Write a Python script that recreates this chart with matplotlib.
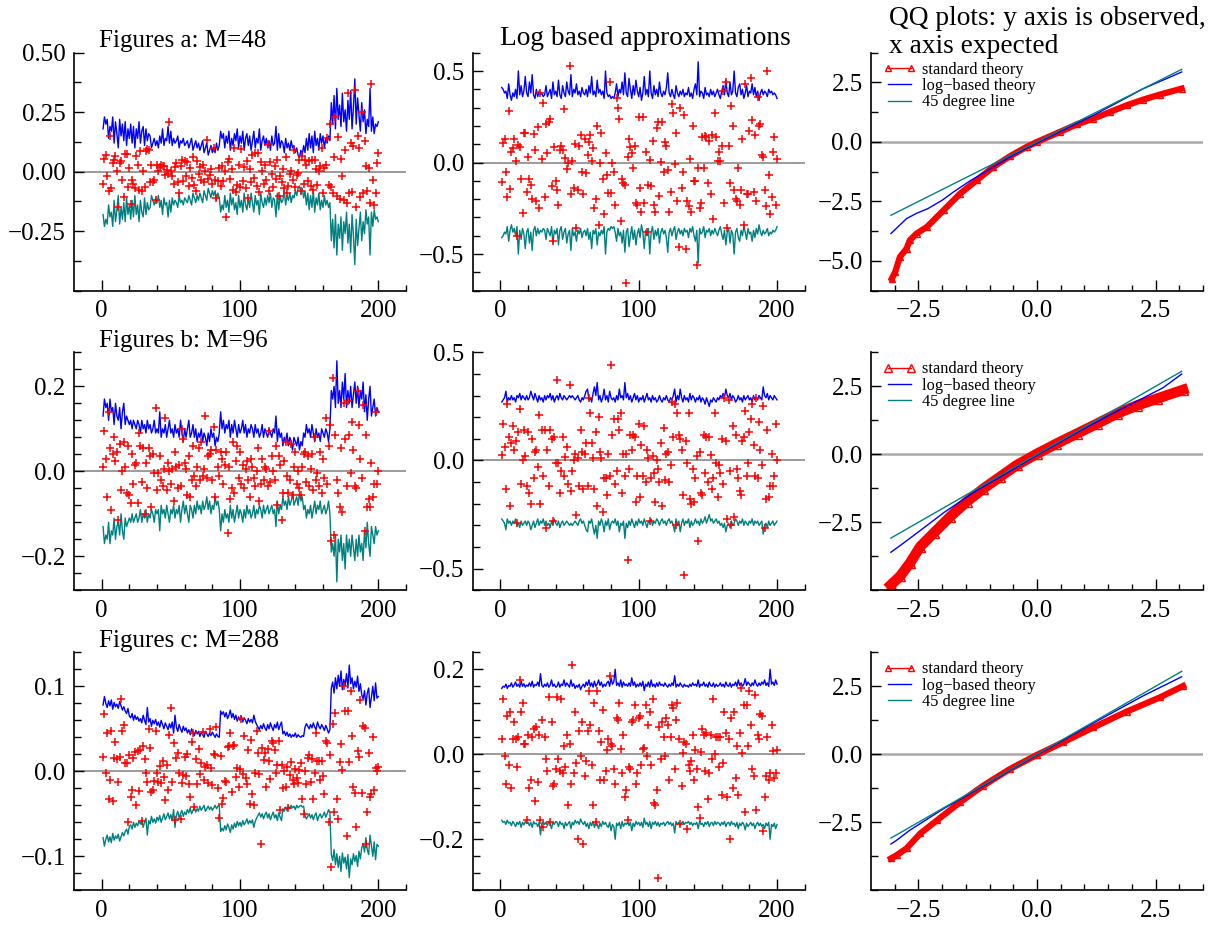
import numpy as np
import matplotlib
matplotlib.use('Agg')
import matplotlib.pyplot as plt
from matplotlib.lines import Line2D
from matplotlib.ticker import FixedLocator

plt.rcParams['font.family'] = ['Liberation Serif', 'DejaVu Serif']

# %%
# Simulation output (200 replications per panel)

# Figures a: M=48
a_std_up = [
    0.18, 0.23, 0.20, 0.22, 0.14, 0.19, 0.17, 0.23, 0.12, 0.21,
    0.16, 0.10, 0.22, 0.15, 0.20, 0.13, 0.21, 0.11, 0.18, 0.14,
    0.20, 0.12, 0.19, 0.10, 0.18, 0.14, 0.21, 0.12, 0.17, 0.19,
    0.11, 0.18, 0.13, 0.16, 0.15, 0.10, 0.12, 0.14, 0.11, 0.13,
    0.10, 0.15, 0.12, 0.18, 0.11, 0.14, 0.13, 0.19, 0.12, 0.17,
    0.11, 0.14, 0.12, 0.13, 0.15, 0.10, 0.13, 0.12, 0.14, 0.11,
    0.12, 0.13, 0.10, 0.12, 0.14, 0.09, 0.11, 0.13, 0.10, 0.12,
    0.09, 0.11, 0.13, 0.08, 0.10, 0.12, 0.07, 0.09, 0.11, 0.08,
    0.10, 0.08, 0.12, 0.09, 0.11, 0.17, 0.14, 0.16, 0.10, 0.15,
    0.12, 0.17, 0.09, 0.14, 0.11, 0.16, 0.13, 0.18, 0.10, 0.15,
    0.12, 0.17, 0.09, 0.14, 0.16, 0.11, 0.15, 0.09, 0.13, 0.17,
    0.10, 0.14, 0.12, 0.18, 0.09, 0.13, 0.15, 0.11, 0.14, 0.10,
    0.13, 0.09, 0.15, 0.11, 0.12, 0.19, 0.09, 0.16, 0.10, 0.13,
    0.12, 0.08, 0.14, 0.10, 0.12, 0.09, 0.13, 0.10, 0.11, 0.08,
    0.10, 0.07, 0.06, 0.09, 0.07, 0.11, 0.08, 0.14, 0.09, 0.16,
    0.10, 0.15, 0.08, 0.17, 0.11, 0.14, 0.09, 0.16, 0.12, 0.15,
    0.10, 0.14, 0.12, 0.15, 0.13, 0.29, 0.20, 0.32, 0.18, 0.35,
    0.22, 0.28, 0.19, 0.33, 0.21, 0.26, 0.17, 0.30, 0.22, 0.34,
    0.18, 0.27, 0.39, 0.20, 0.31, 0.24, 0.17, 0.29, 0.21, 0.26,
    0.16, 0.22, 0.19, 0.35, 0.17, 0.23, 0.16, 0.20, 0.19, 0.21,
]
a_std_err = [
    -0.05, 0.055, 0.07, -0.02, -0.08, 0.15, -0.07, 0.035, 0.05, 0.065,
    0.005, -0.15, 0.035, 0.045, -0.035, -0.105, 0.073, 0.076, -0.065, 0.015,
    -0.135, -0.035, -0.05, -0.07, 0.065, 0.03, -0.075, 0.085, -0.08, 0.005,
    -0.065, 0.085, 0.095, 0.09, -0.045, 0.03, -0.045, -0.035, -0.12, 0.03,
    0.005, 0.02, 0.03, 0.025, 0.022, -0.015, 0.008, -0.008, 0.21, 0.005,
    -0.02, -0.05, 0.02, 0.035, -0.045, -0.09, 0.025, 0.05, -0.04, 0.045,
    -0.02, 0.04, -0.06, 0.015, -0.025, 0.06, -0.055, -0.08, 0.045, -0.01,
    0.02, -0.035, 0.03, -0.045, 0.005, 0.135, -0.03, -0.015, 0.01, -0.05,
    0.10, -0.035, -0.11, -0.04, 0.015, -0.06, 0.025, -0.04, 0.005, -0.19,
    0.04, 0.055, -0.03, 0.012, -0.075, 0.10, -0.085, -0.055, 0.03, -0.065,
    0.095, -0.04, 0.02, -0.07, 0.045, -0.11, 0.01, -0.045, 0.07, -0.025,
    0.08, -0.06, 0.08, -0.085, 0.04, 0.005, -0.05, 0.03, -0.035, 0.115,
    -0.08, 0.04, -0.01, -0.065, 0.025, -0.03, 0.05, -0.1, -0.02, -0.045,
    0.01, -0.07, 0.06, -0.09, -0.06, -0.01, 0.005, -0.035, 0.09, -0.065,
    -0.015, -0.005, 0.05, -0.08, 0.065, -0.05, 0.05, 0.03, -0.04, 0.045,
    -0.06, 0.05, -0.075, 0.05, 0.01, -0.055, 0.005, 0.025, 0.1, -0.09,
    0.015, 0.03, 0.14, -0.055, 0.2, -0.065, -0.09, 0.06, 0.23, -0.1,
    0.145, -0.115, 0.055, -0.02, -0.12, 0.09, -0.13, 0.33, -0.09, 0.12,
    -0.085, 0.11, 0.345, -0.15, 0.15, 0.1, -0.105, 0.25, -0.09, 0.13,
    0.025, -0.08, 0.015, -0.13, 0.37, -0.035, -0.14, -0.09, 0.035, 0.08,
]
a_log_up = [
    0.41, 0.40, 0.38, 0.39, 0.35, 0.43, 0.37, 0.34, 0.38, 0.36,
    0.40, 0.35, 0.50, 0.37, 0.42, 0.36, 0.39, 0.47, 0.38, 0.36,
    0.44, 0.38, 0.48, 0.37, 0.35, 0.40, 0.36, 0.39, 0.37, 0.38,
    0.36, 0.37, 0.42, 0.36, 0.38, 0.40, 0.35, 0.44, 0.37, 0.39,
    0.36, 0.45, 0.37, 0.35, 0.42, 0.38, 0.36, 0.44, 0.39, 0.37,
    0.48, 0.36, 0.40, 0.38, 0.43, 0.37, 0.39, 0.36, 0.41, 0.38,
    0.37, 0.40, 0.36, 0.42, 0.38, 0.47, 0.37, 0.39, 0.36, 0.45,
    0.38, 0.40, 0.37, 0.39, 0.35, 0.50, 0.38, 0.36, 0.37, 0.35,
    0.36, 0.35, 0.38, 0.43, 0.36, 0.40, 0.38, 0.44, 0.37, 0.49,
    0.38, 0.36, 0.46, 0.40, 0.35, 0.42, 0.37, 0.45, 0.39, 0.36,
    0.41, 0.34, 0.38, 0.47, 0.37, 0.40, 0.36, 0.50, 0.38, 0.35,
    0.42, 0.37, 0.40, 0.36, 0.44, 0.38, 0.36, 0.39, 0.37, 0.41,
    0.49, 0.38, 0.36, 0.40, 0.37, 0.35, 0.42, 0.38, 0.36, 0.39,
    0.37, 0.40, 0.36, 0.38, 0.37, 0.41, 0.36, 0.38, 0.35, 0.40,
    0.43, 0.37, 0.55, 0.36, 0.39, 0.38, 0.35, 0.41, 0.37, 0.38,
    0.36, 0.40, 0.37, 0.39, 0.36, 0.38, 0.40, 0.37, 0.35, 0.39,
    0.42, 0.37, 0.45, 0.38, 0.36, 0.44, 0.37, 0.39, 0.50, 0.38,
    0.36, 0.41, 0.43, 0.37, 0.40, 0.35, 0.38, 0.42, 0.36, 0.39,
    0.38, 0.43, 0.37, 0.41, 0.36, 0.39, 0.34, 0.38, 0.40, 0.37,
    0.39, 0.38, 0.36, 0.40, 0.38, 0.39, 0.37, 0.38, 0.37, 0.35,
]
a_log_err = [
    -0.105, 0.105, 0.13, -0.05, -0.19, 0.28, -0.145, 0.06, 0.08, 0.13,
    0.01, -0.40, 0.095, 0.085, -0.09, -0.275, 0.16, 0.16, -0.16, 0.03,
    -0.09, -0.12, -0.2, 0.155, 0.07, -0.21, 0.195, -0.25, 0.38, 0.02,
    0.325, -0.19, 0.21, 0.05, 0.22, 0.24, -0.13, -0.43, 0.085, -0.1,
    -0.15, -0.23, 0.067, 0.09, 0.07, 0.295, 0.025, -0.033, 0.0, 0.53,
    -0.17, 0.01, -0.14, 0.1, -0.36, -0.15, 0.09, 0.15, -0.05, -0.17,
    0.13, -0.055, 0.04, 0.11, 0.15, 0.01, 0.08, -0.25, -0.2, 0.2,
    -0.34, 0.0, 0.16, -0.09, -0.28, 0.05, -0.07, -0.165, 0.44, -0.165,
    0.0, -0.05, -0.23, 0.35, 0.3, 0.24, -0.32, -0.09, -0.11, -0.12,
    -0.66, 0.03, 0.13, 0.085, 0.05, -0.03, 0.09, -0.22, -0.23, 0.25,
    -0.14, -0.27, 0.25, -0.22, 0.06, -0.38, -0.12, 0.015, -0.13, 0.12,
    -0.23, -0.27, 0.19, 0.22, -0.18, 0.005, 0.22, -0.05, 0.11, 0.09,
    -0.04, -0.27, -0.16, 0.32, 0.27, -0.01, 0.16, -0.21, -0.46, 0.3,
    -0.14, -0.05, 0.26, -0.47, -0.21, -0.24, 0.02, -0.27, 0.2, -0.1,
    -0.1, -0.56, -0.03, -0.25, -0.22, 0.14, -0.03, 0.145, 0.14, -0.11,
    0.12, -0.17, 0.15, -0.31, 0.27, 0.14, 0.01, 0.06, 0.01, 0.09,
    0.39, -0.22, 0.44, -0.36, 0.09, -0.11, 0.31, 0.2, -0.15, -0.2,
    -0.21, -0.03, -0.23, -0.15, 0.13, -0.34, 0.43, -0.17, -0.17, 0.17,
    0.46, 0.23, -0.16, 0.15, -0.21, 0.36, 0.2, 0.21, 0.04, 0.03,
    -0.15, -0.24, 0.5, -0.07, -0.28, -0.19, 0.06, 0.14, -0.23, 0.02,
]

# Figures b: M=96
b_std_up = [
    0.13, 0.17, 0.15, 0.16, 0.12, 0.17, 0.14, 0.15, 0.11, 0.16,
    0.13, 0.12, 0.15, 0.10, 0.14, 0.16, 0.11, 0.13, 0.12, 0.11,
    0.12, 0.10, 0.12, 0.11, 0.10, 0.12, 0.11, 0.09, 0.12, 0.10,
    0.11, 0.09, 0.12, 0.10, 0.11, 0.09, 0.10, 0.12, 0.09, 0.10,
    0.09, 0.14, 0.08, 0.10, 0.09, 0.11, 0.08, 0.10, 0.12, 0.09,
    0.10, 0.08, 0.11, 0.09, 0.10, 0.08, 0.12, 0.09, 0.07, 0.10,
    0.08, 0.10, 0.12, 0.08, 0.09, 0.11, 0.08, 0.10, 0.07, 0.09,
    0.08, 0.10, 0.07, 0.09, 0.08, 0.06, 0.09, 0.07, 0.10, 0.08,
    0.09, 0.06, 0.08, 0.07, 0.09, 0.14, 0.10, 0.12, 0.09, 0.11,
    0.10, 0.12, 0.08, 0.11, 0.09, 0.12, 0.10, 0.08, 0.11, 0.09,
    0.10, 0.12, 0.09, 0.11, 0.08, 0.10, 0.09, 0.11, 0.10, 0.08,
    0.11, 0.09, 0.10, 0.08, 0.09, 0.11, 0.08, 0.10, 0.09, 0.08,
    0.10, 0.09, 0.08, 0.10, 0.09, 0.13, 0.07, 0.10, 0.08, 0.09,
    0.06, 0.08, 0.07, 0.09, 0.06, 0.08, 0.07, 0.05, 0.08, 0.07,
    0.06, 0.08, 0.05, 0.07, 0.06, 0.09, 0.08, 0.11, 0.09, 0.10,
    0.08, 0.11, 0.09, 0.07, 0.10, 0.08, 0.09, 0.07, 0.10, 0.09,
    0.08, 0.10, 0.09, 0.07, 0.10, 0.19, 0.17, 0.20, 0.15, 0.26,
    0.16, 0.19, 0.15, 0.21, 0.17, 0.23, 0.15, 0.19, 0.16, 0.20,
    0.15, 0.18, 0.21, 0.16, 0.20, 0.15, 0.19, 0.17, 0.21, 0.14,
    0.18, 0.12, 0.17, 0.20, 0.13, 0.15, 0.17, 0.13, 0.15, 0.14,
]
b_std_err = [
    0.01, 0.095, 0.03, -0.06, 0.14, 0.055, -0.09, 0.04, 0.08, 0.025,
    0.045, -0.115, 0.065, -0.045, 0.0, 0.07, 0.01, -0.05, 0.06, -0.055,
    -0.075, 0.04, -0.03, 0.015, 0.02, -0.075, 0.09, 0.06, -0.025, 0.055,
    -0.1, 0.02, -0.04, 0.055, 0.035, -0.085, 0.04, -0.005, 0.15, -0.045,
    -0.005, 0.035, -0.02, -0.035, 0.005, 0.125, -0.045, 0.02, 0.0, -0.03,
    0.005, -0.07, 0.045, 0.01, -0.04, 0.015, -0.035, 0.1, 0.075, 0.02,
    0.005, -0.055, 0.035, -0.06, -0.02, 0.06, -0.01, -0.035, 0.01, 0.055,
    -0.02, 0.07, -0.01, 0.005, 0.13, -0.015, 0.035, 0.04, 0.05, -0.02,
    0.105, -0.06, 0.05, 0.01, -0.01, 0.045, 0.03, -0.03, 0.015, 0.045,
    -0.145, 0.01, -0.065, -0.04, 0.07, -0.05, 0.025, 0.06, -0.015, 0.045,
    -0.03, 0.015, -0.04, 0.005, 0.025, -0.02, -0.06, 0.03, 0.01, -0.015,
    -0.035, 0.0, 0.055, -0.07, -0.03, 0.03, -0.02, 0.01, 0.005, -0.035,
    0.095, -0.025, 0.035, 0.0, -0.02, 0.06, -0.08, 0.035, 0.015, -0.115,
    -0.05, 0.025, 0.07, -0.01, -0.05, -0.02, 0.065, -0.055, 0.01, 0.045,
    -0.03, 0.0, -0.04, -0.055, 0.01, 0.04, 0.045, -0.025, 0.035, -0.035,
    0.005, 0.04, -0.045, 0.08, -0.02, -0.005, -0.035, 0.045, -0.05, 0.03,
    -0.015, 0.125, -0.03, 0.06, 0.11, -0.165, 0.22, -0.15, 0.085, -0.02,
    -0.05, -0.085, 0.055, -0.095, 0.16, 0.075, -0.035, 0.165, 0.085, -0.005,
    0.115, 0.05, -0.035, -0.04, 0.19, 0.11, 0.03, -0.015, 0.155, -0.14,
    0.085, -0.085, -0.065, -0.085, 0.02, -0.06, -0.03, 0.14, -0.03, 0.0,
]
b_log_up = [
    0.27, 0.28, 0.29, 0.32, 0.27, 0.29, 0.28, 0.30, 0.28, 0.29,
    0.27, 0.30, 0.29, 0.31, 0.28, 0.30, 0.29, 0.28, 0.30, 0.28,
    0.29, 0.32, 0.30, 0.28, 0.31, 0.29, 0.27, 0.30, 0.28, 0.29,
    0.27, 0.30, 0.28, 0.30, 0.29, 0.31, 0.28, 0.30, 0.27, 0.29,
    0.30, 0.28, 0.31, 0.29, 0.28, 0.30, 0.29, 0.28, 0.29, 0.30,
    0.29, 0.30, 0.29, 0.28, 0.29, 0.30, 0.28, 0.27, 0.29, 0.28,
    0.30, 0.32, 0.33, 0.28, 0.29, 0.27, 0.31, 0.34, 0.30, 0.36,
    0.28, 0.30, 0.27, 0.29, 0.33, 0.28, 0.30, 0.27, 0.32, 0.29,
    0.28, 0.29, 0.27, 0.30, 0.28, 0.33, 0.29, 0.30, 0.28, 0.36,
    0.29, 0.31, 0.28, 0.30, 0.27, 0.29, 0.31, 0.28, 0.30, 0.27,
    0.29, 0.28, 0.30, 0.27, 0.29, 0.31, 0.28, 0.29, 0.27, 0.30,
    0.28, 0.29, 0.27, 0.28, 0.30, 0.28, 0.27, 0.29, 0.28, 0.30,
    0.28, 0.27, 0.29, 0.28, 0.30, 0.33, 0.27, 0.30, 0.28, 0.33,
    0.29, 0.27, 0.30, 0.28, 0.29, 0.27, 0.31, 0.28, 0.30, 0.29,
    0.27, 0.29, 0.28, 0.30, 0.27, 0.29, 0.28, 0.26, 0.29, 0.27,
    0.25, 0.28, 0.27, 0.29, 0.28, 0.27, 0.29, 0.28, 0.30, 0.29,
    0.31, 0.29, 0.33, 0.30, 0.29, 0.31, 0.28, 0.30, 0.29, 0.27,
    0.28, 0.30, 0.28, 0.29, 0.27, 0.30, 0.28, 0.29, 0.30, 0.28,
    0.29, 0.27, 0.30, 0.28, 0.29, 0.28, 0.30, 0.29, 0.28, 0.34,
    0.30, 0.29, 0.31, 0.28, 0.30, 0.29, 0.28, 0.30, 0.29, 0.28,
]
b_log_err = [
    0.025, 0.17, 0.06, -0.13, 0.26, 0.11, -0.21, 0.08, 0.16, 0.05,
    0.09, -0.29, 0.13, 0.24, -0.11, 0.0, 0.14, 0.02, -0.12, 0.13,
    -0.15, -0.2, 0.1, -0.08, 0.04, 0.05, -0.03, 0.21, -0.2, 0.14,
    -0.07, 0.14, -0.31, 0.05, -0.12, 0.14, 0.1, -0.28, 0.11, -0.01,
    0.37, -0.01, -0.15, -0.05, 0.11, -0.07, 0.015, 0.06, -0.11, 0.35,
    -0.14, -0.05, 0.0, 0.03, -0.25, 0.01, -0.12, 0.14, 0.04, -0.13,
    0.03, 0.08, -0.12, 0.29, 0.22, 0.08, 0.01, -0.13, 0.13, -0.21,
    0.2, 0.04, 0.01, -0.24, -0.08, -0.08, -0.16, 0.03, -0.07, 0.44,
    0.12, 0.19, -0.11, -0.05, 0.19, 0.14, 0.22, -0.15, 0.03, -0.07,
    0.03, -0.46, -0.04, 0.12, 0.05, 0.12, 0.11, -0.19, -0.07, 0.17,
    -0.17, 0.07, -0.07, 0.16, -0.1, 0.05, 0.01, -0.28, -0.08, 0.02,
    -0.06, -0.19, 0.0, -0.04, -0.1, 0.08, -0.21, 0.15, -0.09, 0.03,
    0.04, -0.1, -0.02, 0.27, 0.11, 0.26, -0.3, 0.22, 0.12, 0.1,
    0.05, -0.16, -0.53, 0.09, -0.01, 0.22, -0.18, -0.2, -0.04, -0.19,
    -0.08, 0.02, -0.37, 0.04, -0.15, -0.16, 0.12, -0.06, 0.11, -0.1,
    0.11, 0.025, -0.13, -0.08, 0.22, -0.01, -0.17, -0.02, -0.06, 0.1,
    -0.11, 0.29, 0.09, -0.27, 0.28, -0.05, -0.3, 0.16, -0.26, 0.12,
    -0.04, -0.08, -0.14, -0.16, 0.09, 0.11, 0.23, -0.07, -0.01, 0.13,
    0.19, 0.26, 0.07, -0.07, 0.29, -0.08, 0.18, 0.05, -0.02, 0.25,
    -0.31, -0.18, 0.14, -0.17, -0.12, 0.03, -0.12, -0.07, 0.17, 0.0,
]

# Figures c: M=288
c_std_up = [
    0.078, 0.088, 0.080, 0.075, 0.083, 0.077, 0.084, 0.073, 0.081, 0.076,
    0.079, 0.074, 0.082, 0.077, 0.072, 0.076, 0.071, 0.068, 0.074, 0.065,
    0.063, 0.068, 0.060, 0.066, 0.061, 0.064, 0.059, 0.062, 0.057, 0.066,
    0.060, 0.055, 0.075, 0.058, 0.062, 0.053, 0.060, 0.056, 0.061, 0.054,
    0.058, 0.052, 0.060, 0.055, 0.050, 0.057, 0.053, 0.049, 0.056, 0.051,
    0.058, 0.045, 0.066, 0.052, 0.047, 0.055, 0.050, 0.046, 0.053, 0.048,
    0.051, 0.045, 0.049, 0.043, 0.050, 0.046, 0.042, 0.048, 0.044, 0.047,
    0.041, 0.046, 0.043, 0.040, 0.047, 0.044, 0.041, 0.045, 0.042, 0.046,
    0.043, 0.040, 0.044, 0.041, 0.040, 0.071, 0.067, 0.070, 0.064, 0.069,
    0.062, 0.066, 0.072, 0.063, 0.068, 0.061, 0.066, 0.059, 0.064, 0.060,
    0.065, 0.058, 0.063, 0.060, 0.056, 0.062, 0.058, 0.061, 0.057, 0.066,
    0.059, 0.055, 0.052, 0.049, 0.054, 0.050, 0.056, 0.051, 0.048, 0.055,
    0.050, 0.057, 0.052, 0.048, 0.055, 0.051, 0.058, 0.049, 0.054, 0.058,
    0.044, 0.047, 0.042, 0.046, 0.041, 0.044, 0.040, 0.043, 0.041, 0.045,
    0.040, 0.043, 0.041, 0.040, 0.042, 0.041, 0.052, 0.056, 0.053, 0.050,
    0.055, 0.051, 0.057, 0.052, 0.049, 0.058, 0.053, 0.050, 0.055, 0.052,
    0.048, 0.054, 0.050, 0.045, 0.049, 0.098, 0.105, 0.092, 0.110, 0.097,
    0.113, 0.100, 0.118, 0.096, 0.108, 0.101, 0.115, 0.098, 0.125, 0.103,
    0.110, 0.097, 0.106, 0.099, 0.112, 0.094, 0.103, 0.090, 0.085, 0.095,
    0.078, 0.092, 0.098, 0.075, 0.088, 0.100, 0.083, 0.104, 0.086, 0.088,
]
c_std_err = [
    0.017, 0.067, -0.002, 0.045, -0.032, -0.01, 0.048, -0.035, 0.016, 0.035,
    0.015, -0.013, 0.017, 0.085, 0.047, 0.055, 0.01, 0.01, -0.06, 0.019,
    -0.03, -0.022, 0.016, 0.023, -0.04, 0.024, -0.023, 0.025, -0.058, 0.03,
    0.014, -0.002, -0.012, 0.05, 0.027, -0.024, -0.022, -0.011, 0.048, -0.002,
    -0.013, 0.006, -0.014, 0.012, -0.007, -0.034, 0.007, -0.022, 0.043, 0.075,
    -0.012, 0.033, -0.057, 0.016, 0.022, -0.002, -0.056, -0.014, -0.004, 0.017,
    -0.005, 0.02, -0.015, -0.03, 0.035, 0.045, -0.042, 0.014, -0.015, 0.026,
    -0.003, 0.01, 0.046, -0.01, 0.005, 0.008, -0.014, 0.05, 0.004, -0.016,
    0.02, 0.019, 0.052, -0.02, -0.055, 0.018, -0.038, -0.031, -0.011, -0.013,
    0.029, 0.03, 0.045, -0.024, 0.03, 0.031, -0.007, 0.004, -0.018, 0.003,
    0.062, -0.003, 0.041, -0.008, -0.015, 0.025, -0.039, 0.037, -0.027, -0.04,
    -0.002, 0.048, 0.021, -0.003, -0.085, 0.028, 0.013, 0.022, -0.018, 0.026,
    0.012, -0.009, 0.036, 0.033, 0.025, -0.002, 0.008, 0.036, -0.045, 0.008,
    -0.02, 0.0, -0.019, 0.005, -0.043, -0.004, 0.011, -0.01, -0.015, 0.003,
    -0.008, -0.014, 0.001, 0.01, -0.032, -0.05, 0.0, -0.015, 0.016, 0.019,
    -0.013, 0.014, -0.032, -0.002, 0.045, 0.012, 0.012, -0.01, 0.012, -0.005,
    -0.027, 0.036, 0.033, -0.06, 0.019, -0.113, 0.056, -0.048, 0.069, -0.032,
    -0.056, 0.011, 0.032, 0.001, 0.1, 0.071, -0.076, 0.071, 0.011, 0.094,
    0.041, -0.018, -0.025, -0.065, 0.024, 0.017, 0.084, -0.026, 0.053, 0.051,
    -0.085, -0.048, 0.022, -0.03, -0.027, 0.04, -0.022, 0.004, 0.0, 0.005,
]
c_log_up = [
    0.155, 0.16, 0.158, 0.165, 0.155, 0.162, 0.16, 0.168, 0.158, 0.163,
    0.17, 0.16, 0.165, 0.158, 0.172, 0.16, 0.166, 0.158, 0.163, 0.16,
    0.168, 0.16, 0.172, 0.158, 0.164, 0.162, 0.17, 0.16, 0.19, 0.162,
    0.158, 0.165, 0.16, 0.168, 0.158, 0.163, 0.175, 0.16, 0.165, 0.158,
    0.16, 0.17, 0.158, 0.165, 0.162, 0.175, 0.16, 0.168, 0.163, 0.158,
    0.175, 0.16, 0.166, 0.155, 0.162, 0.158, 0.165, 0.152, 0.16, 0.165,
    0.158, 0.17, 0.162, 0.175, 0.16, 0.168, 0.158, 0.172, 0.16, 0.165,
    0.175, 0.162, 0.17, 0.158, 0.165, 0.16, 0.168, 0.172, 0.16, 0.18,
    0.165, 0.17, 0.2, 0.162, 0.168, 0.16, 0.175, 0.158, 0.17, 0.162,
    0.165, 0.16, 0.168, 0.16, 0.18, 0.162, 0.17, 0.158, 0.165, 0.16,
    0.168, 0.16, 0.172, 0.15, 0.165, 0.16, 0.17, 0.158, 0.175, 0.16,
    0.165, 0.158, 0.168, 0.16, 0.17, 0.162, 0.165, 0.16, 0.168, 0.162,
    0.158, 0.165, 0.16, 0.168, 0.162, 0.185, 0.158, 0.165, 0.16, 0.168,
    0.162, 0.158, 0.165, 0.16, 0.162, 0.158, 0.165, 0.16, 0.168, 0.162,
    0.165, 0.16, 0.175, 0.158, 0.165, 0.162, 0.17, 0.16, 0.165, 0.158,
    0.17, 0.162, 0.16, 0.168, 0.158, 0.165, 0.16, 0.162, 0.168, 0.16,
    0.165, 0.158, 0.17, 0.162, 0.16, 0.168, 0.158, 0.165, 0.162, 0.17,
    0.16, 0.175, 0.162, 0.168, 0.16, 0.165, 0.178, 0.162, 0.17, 0.165,
    0.16, 0.168, 0.162, 0.175, 0.165, 0.16, 0.168, 0.162, 0.17, 0.165,
    0.175, 0.162, 0.168, 0.16, 0.2, 0.165, 0.17, 0.162, 0.175, 0.165,
]
c_log_err = [
    0.035, 0.13, -0.005, -0.07, 0.09, -0.025, 0.1, -0.08, 0.035, 0.075,
    0.035, -0.03, 0.04, 0.175, 0.1, 0.12, 0.025, 0.025, -0.155, 0.045,
    -0.08, -0.06, 0.04, 0.06, -0.11, 0.065, -0.065, 0.045, -0.155, 0.08,
    -0.17, 0.04, -0.01, -0.04, 0.135, -0.16, 0.075, -0.075, -0.07, -0.035,
    0.135, -0.01, -0.04, 0.13, -0.045, 0.02, -0.03, 0.045, -0.12, 0.025,
    -0.07, 0.21, -0.045, 0.1, -0.02, -0.2, 0.055, -0.005, 0.075, -0.21,
    -0.05, -0.015, 0.055, 0.15, 0.07, -0.025, -0.12, 0.12, -0.16, 0.15,
    0.055, -0.06, 0.03, 0.105, -0.06, -0.04, 0.01, 0.035, 0.185, 0.025,
    0.02, -0.035, -0.07, 0.085, 0.08, 0.12, 0.012, -0.045, 0.045, -0.1,
    -0.085, -0.155, -0.03, -0.035, 0.075, 0.08, 0.115, -0.07, -0.045, 0.085,
    0.09, -0.025, 0.012, 0.014, 0.115, -0.005, 0.07, 0.1, -0.025, 0.13,
    -0.115, -0.12, -0.085, -0.29, 0.065, -0.01, 0.075, 0.04, -0.005, 0.085,
    0.07, -0.06, 0.04, 0.115, 0.11, -0.035, 0.08, 0.12, 0.035, -0.165,
    -0.075, 0.002, 0.03, 0.025, -0.175, -0.025, -0.04, -0.015, 0.045, -0.06,
    0.01, -0.035, -0.125, -0.15, 0.005, 0.06, 0.045, -0.04, 0.05, -0.105,
    -0.045, 0.045, -0.01, 0.13, 0.0, 0.04, 0.04, -0.03, 0.04, -0.095,
    -0.02, 0.1, 0.05, -0.1, 0.035, -0.2, 0.085, -0.08, 0.1, -0.055,
    0.02, -0.095, 0.05, 0.155, 0.003, 0.115, -0.135, 0.115, 0.02, 0.15,
    0.07, -0.035, -0.05, 0.14, -0.13, 0.045, 0.035, 0.095, 0.09, -0.18,
    -0.1, -0.05, 0.04, -0.06, -0.045, 0.07, 0.008, -0.055, -0.045, 0.01,
]

# QQ plots: expected (x) vs observed (y) quantiles
qa_std_x = [-3.06, -2.99, -2.89, -2.75, -2.68, -2.54, -2.32, -1.97, -1.62, -1.27, -0.92,
            -0.57, -0.22, 0.0, 0.48, 0.84, 1.19, 1.54, 1.89, 2.24, 2.59, 3.05]
qa_std_y = [-5.74, -5.46, -4.83, -4.48, -4.13, -3.85, -3.57, -2.87, -2.17, -1.61, -1.05,
            -0.60, -0.21, 0.0, 0.42, 0.74, 0.98, 1.26, 1.54, 1.78, 1.99, 2.24]
qa_log_x = [-3.08, -2.75, -2.54, -2.3, -2.0, -1.76, -1.4, -0.92, -0.5, 0.0, 0.5, 1.19,
            1.7, 2.24, 2.73, 3.05]
qa_log_y = [-3.85, -3.22, -3.0, -2.8, -2.45, -2.1, -1.62, -1.05, -0.55, -0.04, 0.45, 1.12,
            1.66, 2.24, 2.66, 2.94]

qb_std_x = [-3.08, -2.89, -2.68, -2.46, -2.18, -1.83, -1.48, -1.13, -0.78, -0.43, 0.0,
            0.41, 0.84, 1.26, 1.68, 2.10, 2.52, 3.08]
qb_std_y = [-4.8, -4.49, -4.0, -3.39, -2.9, -2.29, -1.74, -1.26, -0.83, -0.40, 0.02,
            0.39, 0.76, 1.12, 1.49, 1.79, 2.04, 2.37]
qb_log_x = [-3.08, -2.82, -2.46, -1.97, -1.27, -0.57, 0.0, 0.84, 1.54, 2.24, 2.66, 3.05]
qb_log_y = [-3.6, -3.27, -2.8, -2.15, -1.33, -0.62, -0.03, 0.8, 1.45, 2.07, 2.45, 2.95]

qc_std_x = [-3.08, -2.96, -2.75, -2.46, -2.11, -1.62, -1.13, -0.57, 0.0, 0.55, 1.19,
            1.89, 2.59, 3.08]
qc_std_y = [-3.83, -3.71, -3.46, -2.91, -2.43, -1.76, -1.15, -0.54, -0.02, 0.44, 0.99,
            1.57, 2.09, 2.51]
qc_log_x = [-3.08, -2.96, -2.68, -1.97, -1.27, 0.0, 1.19, 2.24, 3.05]
qc_log_y = [-3.3, -3.16, -2.79, -2.0, -1.3, -0.02, 1.15, 2.15, 2.85]

q_line = [-3.08, 3.05]

legend_labels = ['standard theory', 'log\u2212based theory', '45 degree line']

# %%
W, H = 1223, 933
TEAL = '#008080'
fig = plt.figure(figsize=(W / 100, H / 100), dpi=100)


def axes_px(left, top, w=332, h=238):
    return fig.add_axes([left / W, 1 - (top + h) / H, w / W, h / H])


def frame(ax, xlim, ylim, xmaj, xmin, ymaj, ymin):
    for s in ['top', 'right']:
        ax.spines[s].set_visible(False)
    for s in ['left', 'bottom']:
        ax.spines[s].set_linewidth(1.2)
    ax.set_xlim(xlim)
    ax.set_ylim(ylim)
    ax.xaxis.set_major_locator(FixedLocator(xmaj))
    ax.xaxis.set_minor_locator(FixedLocator(xmin))
    ax.yaxis.set_major_locator(FixedLocator(ymaj))
    ax.yaxis.set_minor_locator(FixedLocator(ymin))
    ax.tick_params(which='both', direction='in', labelsize=18, width=1)
    ax.tick_params(axis='x', which='major', length=8, pad=7)
    ax.tick_params(axis='x', which='minor', length=4.5)
    ax.tick_params(axis='y', which='major', length=7, pad=6)
    ax.tick_params(axis='y', which='minor', length=5)


def bounds_panel(ax, up, err):
    up = np.array(up)
    x = np.arange(1, len(up) + 1)
    ax.axhline(0, color='#808080', lw=1.1, zorder=1)
    ax.plot(x, up, color='blue', lw=1.0, zorder=2)
    ax.plot(x, -up, color=TEAL, lw=1.0, zorder=2)
    xe = np.arange(1, len(err) + 1)
    ax.plot(xe, err, '+', color='red', ms=5.5, mew=1.1, zorder=3)


def qq_panel(ax, sx, sy, lx, ly, ms, lw):
    ax.axhline(0, color='#aaaaaa', lw=1.8, zorder=1)
    ax.plot(sx, sy, color='red', lw=lw, marker='^', mfc='none', ms=ms, mew=1,
            solid_joinstyle='round', zorder=2)
    ax.plot(lx, ly, color='blue', lw=1.0, zorder=3)
    ax.plot(q_line, q_line, color=TEAL, lw=1.0, zorder=3)
    handles = [Line2D([], [], color='red', lw=1, marker='^', mfc='none', ms=ms * 0.9),
               Line2D([], [], color='blue', lw=1),
               Line2D([], [], color=TEAL, lw=1)]
    ax.legend(handles, legend_labels, loc='upper left', bbox_to_anchor=(0.036, 0.962),
              frameon=False, fontsize=11.8, handlelength=2.0, handletextpad=0.4,
              labelspacing=0.02, borderpad=0, borderaxespad=0, numpoints=2)


cols = [74, 472.7, 871]
tops = [52.7, 352.3, 652.3]
x_lr = (-20, 220)
x_maj = [0, 100, 200]
x_min = np.arange(0, 221, 20)
q_xlim = (-3.5, 3.5)
q_maj = [-2.5, 0.0, 2.5]
q_min = np.arange(-3.0, 3.51, 0.5)

# row a
ax = axes_px(cols[0], tops[0])
bounds_panel(ax, a_std_up, a_std_err)
frame(ax, x_lr, (-0.5, 0.5), x_maj, x_min, [-0.25, 0, 0.25, 0.5], np.arange(-0.5, 0.51, 0.125))
ax = axes_px(cols[1], tops[0])
bounds_panel(ax, a_log_up, a_log_err)
frame(ax, x_lr, (-0.7, 0.6), x_maj, x_min, [-0.5, 0, 0.5], np.arange(-0.7, 0.61, 0.1))
ax = axes_px(cols[2], tops[0])
qq_panel(ax, qa_std_x, qa_std_y, qa_log_x, qa_log_y, ms=4.5, lw=4.5)
frame(ax, q_xlim, (-6.25, 3.75), q_maj, q_min, [-5, -2.5, 0, 2.5], np.arange(-6.25, 3.76, 1.25))

# row b
ax = axes_px(cols[0], tops[1])
bounds_panel(ax, b_std_up, b_std_err)
frame(ax, x_lr, (-0.28, 0.28), x_maj, x_min, [-0.2, 0, 0.2], np.arange(-0.28, 0.281, 0.04))
ax = axes_px(cols[1], tops[1])
bounds_panel(ax, b_log_up, b_log_err)
frame(ax, x_lr, (-0.6, 0.5), x_maj, x_min, [-0.5, 0, 0.5], np.arange(-0.6, 0.51, 0.1))
ax = axes_px(cols[2], tops[1])
qq_panel(ax, qb_std_x, qb_std_y, qb_log_x, qb_log_y, ms=7, lw=7.5)
frame(ax, q_xlim, (-5, 3.75), q_maj, q_min, [-2.5, 0, 2.5], np.arange(-5, 3.76, 1.25))

# row c
ax = axes_px(cols[0], tops[2])
bounds_panel(ax, c_std_up, c_std_err)
frame(ax, x_lr, (-0.14, 0.14), x_maj, x_min, [-0.1, 0, 0.1], np.arange(-0.14, 0.141, 0.02))
ax = axes_px(cols[1], tops[2])
bounds_panel(ax, c_log_up, c_log_err)
frame(ax, x_lr, (-0.32, 0.24), x_maj, x_min, [-0.2, 0, 0.2], np.arange(-0.32, 0.241, 0.04))
ax = axes_px(cols[2], tops[2])
qq_panel(ax, qc_std_x, qc_std_y, qc_log_x, qc_log_y, ms=4.5, lw=4.5)
frame(ax, q_xlim, (-5, 3.75), q_maj, q_min, [-2.5, 0, 2.5], np.arange(-5, 3.76, 1.25))

# titles
for s, x, y, fs in [('Figures a: M=48', 99, 46.5, 18), ('Log based approximations', 500, 45, 19.7),
                    ('QQ plots: y axis is observed,', 889, 25, 19.7), ('x axis expected', 889, 53, 19.7),
                    ('Figures b: M=96', 99, 346.5, 18), ('Figures c: M=288', 99, 646.5, 18)]:
    fig.text(x / W, 1 - y / H, s, fontsize=fs, ha='left', va='baseline')

fig.savefig('out.png', dpi=100)
